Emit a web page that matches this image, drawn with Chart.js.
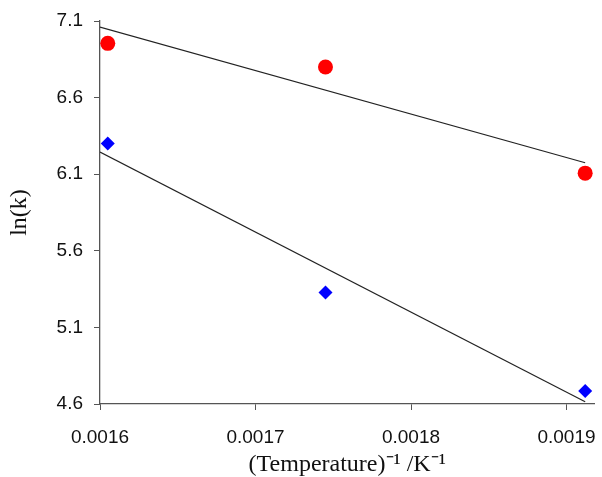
<!DOCTYPE html>
<html>
<head>
<meta charset="utf-8">
<script src="https://cdn.jsdelivr.net/npm/chart.js@4/dist/chart.umd.min.js"></script>
<style>
  html,body{margin:0;padding:0;background:#fff;}
  #wrap{width:602px;height:477px;}
</style>
</head>
<body>
<div id="wrap"><canvas id="c"></canvas></div>
<script>
// ----- data -----
const invT = [0.001605, 0.001745, 0.001912];      // 1/T (K^-1)
const lnkRed = [6.954, 6.80, 6.107];               // circles
const lnkBlue = [6.30, 5.328, 4.685];              // diamonds
const fitX = [0.0016, 0.001912];                   // trendline ends
const fitRed = [7.06, 6.175];
const fitBlue = [6.245, 4.615];
const xTicks = [0.0016, 0.0017, 0.0018, 0.0019];
const yTicks = [4.6, 5.1, 5.6, 6.1, 6.6, 7.1];

const pts = (xs, ys)=> xs.map((x,i)=>({x, y: ys[i]}));
const axisCol = "#555";
const tickFont = {family:"'Liberation Sans', Arial, sans-serif", size:19};
const titleFont = {family:"'Liberation Serif', 'Times New Roman', serif", size:24};

new Chart(document.getElementById("c"), {
  type: "scatter",
  data: {
    datasets: [
      { data: pts(fitX, fitRed), showLine:true, borderColor:"#222", borderWidth:1.2, pointRadius:0, order:2 },
      { data: pts(fitX, fitBlue), showLine:true, borderColor:"#222", borderWidth:1.2, pointRadius:0, order:2 },
      { data: pts(invT, lnkRed), pointStyle:"circle", pointRadius:7.5, backgroundColor:"#ff0000", borderColor:"#ff0000", borderWidth:0, order:1 },
      { data: pts(invT, lnkBlue), pointStyle:"rectRot", pointRadius:7, backgroundColor:"#0000ff", borderColor:"#0000ff", borderWidth:0, order:1 }
    ]
  },
  options: {
    responsive:true, maintainAspectRatio:false, animation:false,
    layout:{ padding:{ top:21, right:4, left:0, bottom:0 } },
    plugins:{ legend:{display:false}, tooltip:{enabled:false} },
    scales:{
      x:{
        type:"linear", min:0.0016, max:0.001918,
        afterBuildTicks:(s)=>{ s.ticks = xTicks.map(v=>({value:v})); },
        afterFit:(s)=>{ s.height = 73; s.paddingLeft = 0; s.paddingRight = 0; },
        border:{ color:axisCol, width:1.3 },
        grid:{ drawOnChartArea:false, drawTicks:true, tickLength:6, color:axisCol },
        ticks:{ color:"#111", font:tickFont, padding:16, maxRotation:0, callback:(v)=> (+v).toFixed(4) },
        title:{ display:true, text:"(Temperature)⁻¹ /K⁻¹", color:"#111", font:titleFont, padding:{top:0,bottom:-2} }
      },
      y:{
        type:"linear", min:4.6, max:7.1,
        afterBuildTicks:(s)=>{ s.ticks = yTicks.map(v=>({value:v})); },
        afterFit:(s)=>{ s.width = 100; s.paddingTop = 0; s.paddingBottom = 0; },
        border:{ color:axisCol, width:1.3 },
        grid:{ drawOnChartArea:false, drawTicks:true, tickLength:6, color:axisCol },
        ticks:{ color:"#111", font:tickFont, padding:11, callback:(v)=> (+v).toFixed(1) },
        title:{ display:true, text:"ln(k)", color:"#111", font:titleFont, padding:{top:5,bottom:0} }
      }
    }
  }
});
</script>
</body>
</html>
